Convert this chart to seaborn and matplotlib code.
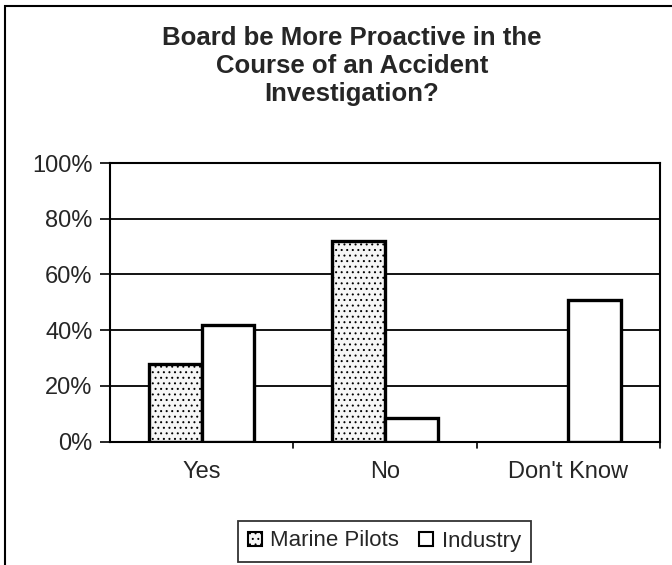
import matplotlib

matplotlib.use("Agg")
import matplotlib.pyplot as plt
import pandas as pd
import seaborn as sns
from matplotlib.patches import Rectangle

sns.set_theme(style="white")
plt.rcParams["font.family"] = ["Liberation Sans", "DejaVu Sans"]
plt.rcParams["hatch.color"] = "#a8a8a8"
plt.rcParams["hatch.linewidth"] = 0.7

CATEGORIES = ["Yes", "No", "Don't Know"]
GROUPS = ["Marine Pilots", "Industry"]
MARINE = [28, 72, 0]
INDUSTRY = [42, 8.5, 51]
YTICKS = [0, 20, 40, 60, 80, 100]

df = pd.DataFrame({
    "answer": CATEGORIES * 2,
    "group": [GROUPS[0]] * 3 + [GROUPS[1]] * 3,
    "pct": MARINE + INDUSTRY,
})

W, H = 672, 565
fig = plt.figure(figsize=(W / 100, H / 100), dpi=100)
ax = fig.add_axes([110 / W, 1 - 441.7 / H, 550 / W, (441.7 - 163) / H])

sns.barplot(data=df, x="answer", y="pct", hue="group", hue_order=GROUPS,
            order=CATEGORIES, palette=["white", "white"], edgecolor="black",
            linewidth=2.4, width=0.575, ax=ax, legend=False, zorder=3)

# stippled fill for marine pilots; empty bars draw nothing
for p in ax.containers[0]:
    p.set_hatch("...")
    p.set_facecolor("#f6f6f6")
for cont in ax.containers:
    for p in cont:
        if p.get_height() == 0:
            p.set_visible(False)

ax.set_ylim(0, 100)
ax.set_xlim(-0.5, 2.5)
ax.set_yticks(YTICKS)
ax.set_yticklabels([f"{v}%" for v in YTICKS], fontsize=17)
ax.set_xticks(range(3))
ax.set_xticklabels(CATEGORIES, fontsize=17)
ax.tick_params(axis="x", length=0, pad=14)
ax.tick_params(axis="y", length=7, width=1.2, direction="out", left=True,
               color="black", pad=5.5)
for v in YTICKS[1:-1]:
    ax.axhline(v, color="black", lw=1.3, zorder=1)
for xb in [0.5, 1.5, 2.5]:
    ax.plot([xb, xb], [0, -2.2], color="black", lw=1.2, clip_on=False)
for s in ax.spines.values():
    s.set_color("black")
    s.set_linewidth(1.5)
ax.set_xlabel("")
ax.set_ylabel("")

fig.text(352 / W, 1 - 66 / H,
         "Board be More Proactive in the\nCourse of an Accident\nInvestigation?",
         ha="center", va="center", fontsize=18.5, fontweight="bold", linespacing=1.2)

handles = [Rectangle((0, 0), 1, 1, facecolor="#f6f6f6", edgecolor="black", lw=1.5, hatch="..."),
           Rectangle((0, 0), 1, 1, facecolor="white", edgecolor="black", lw=1.5)]
leg = fig.legend(handles, GROUPS, loc="center", bbox_to_anchor=(384.5 / W, 1 - 541 / H),
                 ncol=2, fontsize=16, frameon=True, fancybox=False, handlelength=0.6,
                 handleheight=0.6, handletextpad=0.4, columnspacing=0.9,
                 borderpad=0.45, borderaxespad=0)
leg.get_frame().set_edgecolor("black")
leg.get_frame().set_linewidth(1.3)

# outer chart border
fig.add_artist(Rectangle((5 / W, -0.1), 1.2, (1 - 6 / H) + 0.1, transform=fig.transFigure,
                         fill=False, edgecolor="black", lw=1.5))

fig.savefig("out.png", dpi=100, facecolor="white")
